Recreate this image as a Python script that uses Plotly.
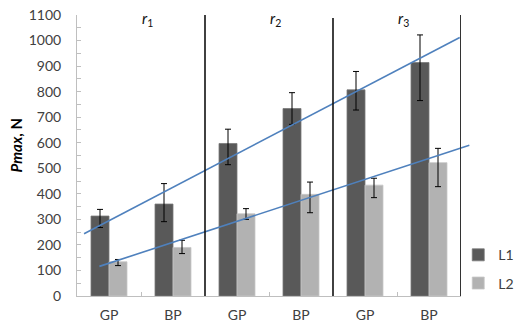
import plotly.graph_objects as go

categories = ["GP", "BP", "GP", "BP", "GP", "BP"]
cat_pos = [0, 1, 2, 3, 4, 5]

l1_values = [313, 360, 597, 734, 807, 914]
l1_err_plus = [26, 80, 56, 62, 72, 108]
l1_err_minus = [45, 69, 83, 62, 79, 149]

l2_values = [134, 190, 322, 398, 434, 522]
l2_err_plus = [9, 28, 20, 48, 27, 56]
l2_err_minus = [15, 24, 22, 72, 49, 94]

trend1_x = [-0.39, 5.48]
trend1_y = [244, 1012]
trend2_x = [-0.15, 5.63]
trend2_y = [116, 590]

sep_x = [1.5, 3.5, 5.5]
sep_top = [1100, 1088, 1100]

group_x = [0.5, 2.5, 4.5]
group_labels = ["<i>r</i><sub>1</sub>", "<i>r</i><sub>2</sub>", "<i>r</i><sub>3</sub>"]

y_ticks = list(range(0, 1101, 100))

FONT = "Lato"
TXT = "#404040"

fig = go.Figure()
fig.add_trace(go.Bar(
    x=cat_pos, y=l1_values, name="L1", legendgroup="a",
    marker=dict(color="#595959", line=dict(color="#7a7a7a", width=0.8)),
    error_y=dict(type="data", symmetric=False, array=l1_err_plus, arrayminus=l1_err_minus,
                 color="#000000", thickness=1, width=3),
))
fig.add_trace(go.Bar(
    x=cat_pos, y=l2_values, name="L2", legendgroup="b",
    marker=dict(color="#b2b2b2", line=dict(color="#c8c8c8", width=0.8)),
    error_y=dict(type="data", symmetric=False, array=l2_err_plus, arrayminus=l2_err_minus,
                 color="#000000", thickness=1, width=3),
))
for tx, ty in [(trend1_x, trend1_y), (trend2_x, trend2_y)]:
    fig.add_trace(go.Scatter(x=tx, y=ty, mode="lines", xaxis="x2", yaxis="y2",
                             line=dict(color="#4f81bd", width=1.6), showlegend=False,
                             hoverinfo="skip"))

for sx, st in zip(sep_x, sep_top):
    fig.add_shape(type="line", xref="x", yref="y", x0=sx, x1=sx, y0=0, y1=st,
                  line=dict(color="#111111" if sx < 5 else "#333333", width=1.6 if sx < 5 else 2),
                  layer="above")

for gx, gl in zip(group_x, group_labels):
    fig.add_annotation(x=gx, y=1085, xref="x", yref="y", text=gl, showarrow=False,
                       font=dict(family=FONT, size=15, color="#111111"), xshift=6)

plot_w = 516 - 77 - 36
plot_h = 323 - 15 - 27
main_frac = 384 / plot_w

fig.add_annotation(x=(16 - 77) / plot_w, y=(296.6 - 146) / plot_h, xref="paper", yref="paper",
                   text="<b><i>Pmax</i>, N</b>", textangle=-90, showarrow=False,
                   xanchor="center", yanchor="middle",
                   font=dict(family=FONT, size=15, color="#000000"))

fig.update_layout(
    width=516, height=323,
    margin=dict(l=77, r=36, t=15, b=27, autoexpand=False),
    paper_bgcolor="white", plot_bgcolor="rgba(0,0,0,0)",
    barmode="group", bargap=0.4375, bargroupgap=0,
    font=dict(family=FONT, size=13, color=TXT),
    showlegend=True,
    legend=dict(x=0.946, xanchor="left", y=0.202, yanchor="top",
                font=dict(family=FONT, size=14, color=TXT),
                tracegroupgap=7, bgcolor="rgba(0,0,0,0)", itemwidth=30),
    xaxis=dict(domain=[0, main_frac], range=[-0.5, 5.5], tickvals=cat_pos, ticktext=categories,
               showgrid=False, zeroline=False, showline=True, linecolor="#bfbfbf", linewidth=1,
               ticks="", ticklabelstandoff=6, automargin=False,
               minor=dict(tickvals=[0.5, 2.5, 4.5], ticks="inside", ticklen=4, tickcolor="#bfbfbf"),
               tickfont=dict(family=FONT, size=14, color=TXT), fixedrange=True),
    yaxis=dict(range=[0, 1100], tickvals=y_ticks, showgrid=False, zeroline=False,
               showline=True, linecolor="#bfbfbf", linewidth=1, automargin=False,
               ticks="inside", ticklen=4, tickcolor="#bfbfbf", ticklabelstandoff=12,
               minor=dict(dtick=50, ticks="inside", ticklen=4, tickcolor="#bfbfbf"),
               tickfont=dict(family=FONT, size=14, color=TXT)),
    xaxis2=dict(domain=[0, 1], range=[-0.5, -0.5 + plot_w / 64], anchor="y2", visible=False,
                fixedrange=True),
    yaxis2=dict(domain=[0, 1], range=[0, 1100], anchor="x2", visible=False),
)

fig.write_html("out.html")
